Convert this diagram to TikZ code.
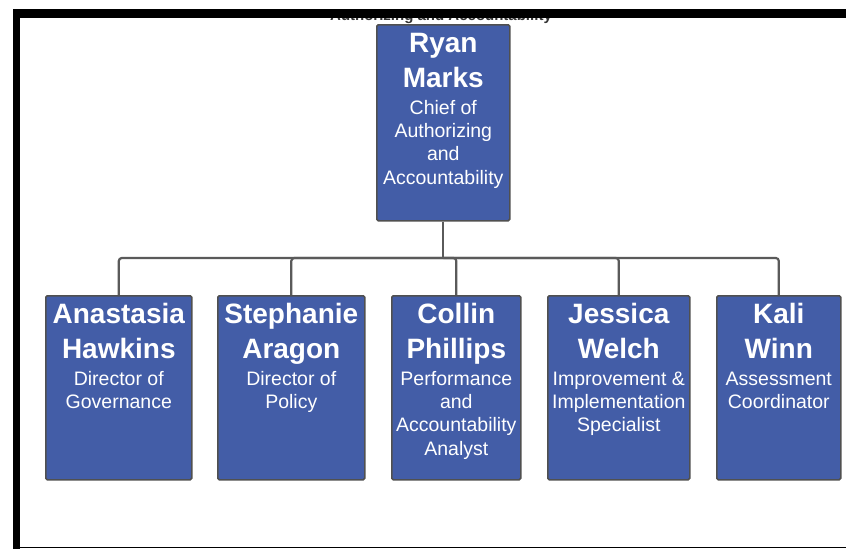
\documentclass[tikz,border=0pt]{standalone}
\usepackage{fontspec}
\setmainfont{Liberation Sans}
\definecolor{boxblue}{RGB}{67,93,167}
\definecolor{edgegray}{RGB}{80,80,80}
\definecolor{linkgray}{RGB}{90,90,90}
\newcommand{\orgcard}[4]{\parbox[c][#2][t]{#1}{\lineskiplimit=-100pt\centering
  \fontsize{28}{34.5}\selectfont\bfseries\rule{0pt}{28pt}#3\par
  \vspace{3.5pt}\fontsize{19.5}{23.3}\selectfont\mdseries #4\par}}
\tikzset{
  person/.style={draw=edgegray, line width=1.6pt, fill=boxblue, rounded corners=1.5pt,
    inner sep=0pt, text=white, anchor=north west},
  link/.style={draw=linkgray, line width=2.2pt, rounded corners=3pt},
  frameband/.style={fill=black, draw=none},
}
\begin{document}
\begin{tikzpicture}[x=1pt,y=-1pt]
\useasboundingbox (0,0) rectangle (846,549);
\fill[white] (0,0) rectangle (846,549);

% partially hidden heading
\node[anchor=base, font=\fontsize{15}{17}\selectfont\bfseries, text=black!80, inner sep=0pt,
  xscale=1.0] (heading) at (441,20) {Authorizing and Accountability};

% frame
\fill[frameband] (13,8.5) rectangle (846,17.5);
\fill[frameband] (13,8.5) rectangle (20,549);
\fill[frameband] (13,546.5) rectangle (846,548.3);

% boxes
\node[person] (ryan) at (376,24) {\orgcard{133pt}{196pt}{Ryan\\Marks}{Chief of\\Authorizing\\and\\Accountability}};
\node[person] (b1) at (45,295) {\orgcard{146pt}{184pt}{Anastasia\\Hawkins}{Director of\\Governance}};
\node[person] (b2) at (217,295) {\orgcard{147pt}{184pt}{Stephanie\\Aragon}{Director of\\Policy}};
\node[person] (b3) at (391,295) {\orgcard{129pt}{184pt}{Collin\\Phillips}{Performance\\and\\Accountability\\Analyst}};
\node[person] (b4) at (547,295) {\orgcard{142pt}{184pt}{Jessica\\Welch}{Improvement \&\\Implementation\\Specialist}};
\node[person] (b5) at (716,295) {\orgcard{124pt}{184pt}{Kali\\Winn}{Assessment\\Coordinator}};

% connectors
\coordinate (bus) at (ryan.south |- 0,258);
\draw[link] (ryan.south) -- (bus);
\foreach \b in {b1,b2,b3,b4,b5}
  \draw[link] (bus) -| (\b.north);
\end{tikzpicture}
\end{document}
